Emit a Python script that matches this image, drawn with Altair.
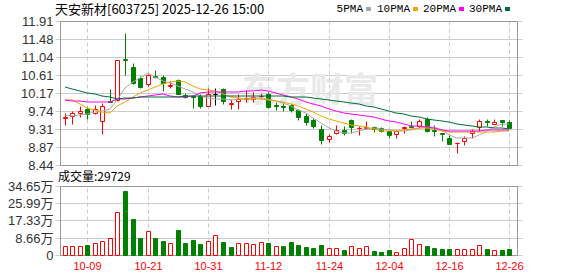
import altair as alt
import pandas as pd

# ---------------- data ----------------
dates = ["09-26", "09-29", "09-30", "10-09", "10-10", "10-13", "10-14", "10-15", "10-16", "10-17",
         "10-20", "10-21", "10-22", "10-23", "10-24", "10-27", "10-28", "10-29", "10-30", "10-31",
         "11-03", "11-04", "11-05", "11-06", "11-07", "11-10", "11-11", "11-12", "11-13", "11-14",
         "11-17", "11-18", "11-19", "11-20", "11-21", "11-24", "11-25", "11-26", "11-27", "11-28",
         "12-01", "12-02", "12-03", "12-04", "12-05", "12-08", "12-09", "12-10", "12-11", "12-12",
         "12-15", "12-16", "12-17", "12-18", "12-19", "12-22", "12-23", "12-24", "12-25", "12-26"]

opens = [9.58, 9.63, 9.70, 9.80, 9.69, 9.49, 9.99, 10.01, 11.00, 10.80,
         10.54, 10.38, 10.58, 10.56, 10.35, 10.48, 10.13, 10.10, 10.10, 9.86,
         10.16, 10.27, 9.92, 9.99, 10.03, 10.02, 10.10, 10.15, 9.89, 9.85,
         9.88, 9.76, 9.61, 9.52, 9.30, 9.07, 9.20, 9.29, 9.52, 9.32,
         9.32, 9.36, 9.32, 9.25, 9.18, 9.33, 9.37, 9.37, 9.55, 9.29,
         9.20, 9.10, 8.96, 9.01, 9.20, 9.36, 9.49, 9.43, 9.52, 9.47]

closes = [9.60, 9.69, 9.73, 9.67, 9.79, 9.87, 9.97, 10.96, 10.96, 10.42,
          10.32, 10.62, 10.56, 10.42, 10.37, 10.16, 10.08, 10.08, 9.85, 10.16,
          10.16, 9.99, 9.94, 10.04, 10.06, 10.07, 10.11, 9.84, 9.87, 9.83,
          9.76, 9.60, 9.48, 9.39, 9.04, 9.15, 9.28, 9.21, 9.36, 9.34,
          9.36, 9.30, 9.26, 9.16, 9.26, 9.35, 9.35, 9.50, 9.25, 9.27,
          9.18, 8.95, 8.98, 9.09, 9.27, 9.50, 9.47, 9.47, 9.48, 9.34]

highs = [9.69, 9.73, 9.85, 9.83, 9.89, 9.93, 10.27, 10.97, 11.62, 10.90,
         10.59, 10.64, 10.72, 10.62, 10.46, 10.51, 10.17, 10.11, 10.14, 10.29,
         10.30, 10.30, 10.03, 10.15, 10.24, 10.20, 10.18, 10.19, 9.97, 9.93,
         9.93, 9.80, 9.69, 9.57, 9.40, 9.19, 9.40, 9.39, 9.56, 9.37,
         9.50, 9.39, 9.35, 9.29, 9.28, 9.37, 9.49, 9.54, 9.59, 9.40,
         9.22, 9.16, 8.99, 9.15, 9.31, 9.55, 9.55, 9.55, 9.53, 9.53]

lows = [9.41, 9.44, 9.59, 9.56, 9.68, 9.19, 9.96, 9.99, 10.61, 10.38,
        10.30, 10.35, 10.54, 10.22, 10.30, 10.15, 10.05, 9.82, 9.82, 9.85,
        9.89, 9.90, 9.79, 9.78, 9.97, 9.97, 10.05, 9.81, 9.77, 9.73,
        9.71, 9.52, 9.41, 9.32, 8.95, 8.99, 9.19, 9.17, 9.22, 9.17,
        9.31, 9.24, 9.23, 9.08, 9.10, 9.21, 9.33, 9.33, 9.24, 9.15,
        9.03, 8.94, 8.74, 8.91, 9.10, 9.26, 9.38, 9.43, 9.38, 9.33]

# volume in 万 (10k shares)
volumes = [4.5, 4.5, 4.5, 5.0, 6.0, 7.0, 8.4, 21.4, 32.1, 18.1,
           8.7, 12.0, 8.7, 7.0, 6.0, 12.5, 6.2, 7.5, 5.5, 7.0,
           10.0, 6.5, 4.0, 6.0, 6.0, 5.5, 6.5, 6.0, 4.5, 4.5,
           6.5, 5.0, 4.0, 3.5, 5.0, 3.7, 3.3, 2.5, 4.3, 3.3,
           4.3, 2.0, 1.5, 2.5, 1.5, 3.5, 7.9, 5.5, 4.5, 3.5,
           3.0, 3.0, 3.0, 3.0, 3.0, 5.0, 3.0, 2.3, 2.5, 2.97]

# 1 = red (up) volume bar, 0 = green (down)
vol_up = [1, 1, 1, 0, 1, 1, 1, 1, 0, 0,
          0, 1, 0, 0, 1, 0, 0, 0, 0, 1,
          1, 0, 0, 1, 1, 1, 1, 0, 1, 0,
          0, 0, 0, 0, 0, 1, 1, 0, 1, 1,
          1, 0, 0, 0, 1, 1, 1, 1, 0, 0,
          0, 0, 1, 1, 1, 1, 0, 1, 0, 0]

ma5 = [9.64, 9.62, 9.64, 9.66, 9.71, 9.74, 9.80, 10.00, 10.29, 10.44,
       10.54, 10.65, 10.57, 10.47, 10.41, 10.34, 10.26, 10.19, 10.10, 10.05,
       10.04, 10.03, 10.01, 10.02, 10.03, 10.05, 10.06, 10.03, 9.98, 9.93,
       9.86, 9.77, 9.69, 9.58, 9.45, 9.33, 9.26, 9.22, 9.21, 9.26,
       9.30, 9.32, 9.31, 9.28, 9.26, 9.27, 9.29, 9.34, 9.36, 9.35,
       9.29, 9.17, 9.10, 9.08, 9.10, 9.17, 9.27, 9.36, 9.43, 9.44]

ma10 = [10.01, 10.01, 9.91, 9.82, 9.76, 9.72, 9.69, 9.85, 9.97, 10.08,
        10.17, 10.24, 10.33, 10.40, 10.45, 10.47, 10.45, 10.35, 10.27, 10.24,
        10.22, 10.14, 10.09, 10.05, 10.04, 10.03, 10.02, 10.01, 9.99, 9.96,
        9.92, 9.87, 9.78, 9.71, 9.62, 9.56, 9.50, 9.45, 9.41, 9.38,
        9.35, 9.30, 9.27, 9.25, 9.26, 9.28, 9.30, 9.32, 9.33, 9.30,
        9.27, 9.24, 9.23, 9.23, 9.23, 9.23, 9.23, 9.23, 9.25, 9.27]

ma20 = [10.01, 9.99, 9.98, 9.97, 9.97, 9.97, 9.97, 10.02, 10.04, 10.06,
        10.09, 10.11, 10.13, 10.14, 10.11, 10.09, 10.08, 10.10, 10.17, 10.20,
        10.21, 10.21, 10.21, 10.21, 10.22, 10.23, 10.24, 10.23, 10.18, 10.13,
        10.08, 10.02, 9.96, 9.90, 9.85, 9.79, 9.74, 9.70, 9.68, 9.65,
        9.62, 9.59, 9.55, 9.51, 9.47, 9.43, 9.39, 9.37, 9.35, 9.32,
        9.29, 9.27, 9.25, 9.25, 9.25, 9.26, 9.28, 9.29, 9.29, 9.28]

ma30 = [10.31, 10.27, 10.22, 10.17, 10.14, 10.10, 10.07, 10.04, 10.05, 10.06,
        10.07, 10.08, 10.09, 10.09, 10.09, 10.09, 10.10, 10.10, 10.10, 10.10,
        10.10, 10.10, 10.10, 10.10, 10.10, 10.10, 10.10, 10.10, 10.10, 10.10,
        10.09, 10.08, 10.07, 10.06, 10.04, 10.01, 9.99, 9.96, 9.94, 9.90,
        9.86, 9.83, 9.79, 9.74, 9.70, 9.67, 9.63, 9.60, 9.56, 9.53,
        9.50, 9.47, 9.44, 9.41, 9.38, 9.36, 9.35, 9.33, 9.32, 9.31]

tick_idx = [3, 11, 19, 27, 35, 43, 51, 59]
price_ticks = [8.44, 8.87, 9.31, 9.74, 10.17, 10.61, 11.04, 11.48, 11.91]
vol_ticks = [0, 8.66, 17.33, 25.99, 34.65]
title_text = "天安新材[603725] 2025-12-26 15:00"
vol_title = "成交量:29729"
watermark = "东方财富"
ma_names = ["5PMA", "10PMA", "20PMA", "30PMA"]
ma_fields = ["ma5", "ma10", "ma20", "ma30"]
ma_colors = ["#a8a8a8", "#f2a600", "#ff00ff", "#006f3a"]

RED = "#ff0000"
GREEN = "#008000"
GRID = "#cccccc"
FRAME = "#999999"

# ---------------- tables ----------------
df = pd.DataFrame({
    "i": list(range(len(dates))), "date": dates,
    "o": opens, "h": highs, "l": lows, "c": closes,
    "vol": volumes, "vup": vol_up,
    "ma5": ma5, "ma10": ma10, "ma20": ma20, "ma30": ma30,
})
ticks_df = pd.DataFrame({"ti": tick_idx})
one = pd.DataFrame({"k": [0]})

X_MIN, X_MAX = -0.624, 60.0
P_MIN, P_MAX = price_ticks[0], price_ticks[-1]
V_MIN, V_MAX = vol_ticks[0], vol_ticks[-1]

xs = alt.Scale(domain=[X_MIN, X_MAX], range=[55, 522], nice=False, zero=False, round=True)
ps = alt.Scale(domain=[P_MIN, P_MAX], range=[165, 21], nice=False, zero=False, round=True)
vs = alt.Scale(domain=[V_MIN, V_MAX], range=[255, 186], nice=False, zero=False, round=True)

label_expr_x = "[" + ",".join("'%s'" % d for d in dates) + "][datum.value]"
xa = alt.Axis(orient="bottom", values=tick_idx, labelExpr=label_expr_x, offset=-21,
              grid=False, ticks=False, tickSize=0, domain=False, title=None,
              labelFont="Liberation Sans", labelFontSize=11, labelColor=RED,
              labelPadding=5, labelOverlap=False, labelFlush=False)
pa = alt.Axis(orient="left", values=price_ticks, format=".2f", offset=-55,
              grid=True, gridColor=GRID, gridWidth=1, ticks=False, tickSize=0,
              domain=False, title=None, labelFont="Liberation Sans", labelFontSize=13,
              labelColor="#333333", labelPadding=2, labelOverlap=False, labelFlush=False)
va = alt.Axis(orient="left", values=vol_ticks,
              labelExpr="datum.value == 0 ? '0' : format(datum.value, '.2f') + '万'",
              offset=-55, grid=True, gridColor=GRID, gridWidth=1, ticks=False, tickSize=0,
              domain=False, title=None, labelFont="Liberation Sans, Noto Sans CJK SC",
              labelFontSize=13, labelColor="#333333", labelPadding=2,
              labelOverlap=False, labelFlush=False)

dir_domain = ["up", "down", "flat"]
fill_sc = alt.Scale(domain=dir_domain, range=["#ffffff", GREEN, "#000000"])
line_sc = alt.Scale(domain=dir_domain, range=[RED, GREEN, "#000000"])

base = alt.Chart(df).transform_calculate(
    dir="datum.c > datum.o ? 'up' : (datum.c < datum.o ? 'down' : 'flat')",
    bt="max(datum.o, datum.c)",
    bb="min(datum.o, datum.c)",
    vdir="datum.vup == 1 ? 'up' : 'down'",
)

def X(f):
    return alt.X(f, type="quantitative", scale=xs, axis=xa)

# ---------------- price panel ----------------
wm = alt.Chart(one).mark_text(text=watermark, font="Noto Sans CJK SC", fontSize=34,
                              fontWeight="bold", color="#e9e9e9").encode(
    x=alt.value(310), y=alt.value(92))

vgrid_p = alt.Chart(ticks_df).mark_rule(color=GRID, strokeDash=[4, 3], xOffset=0.5,
                                        yOffset=0.5, y2Offset=0.5).encode(
    x=X("ti"), y=alt.YDatum(P_MIN, scale=ps, axis=pa), y2=alt.Y2Datum(P_MAX))

frame_p = alt.Chart(one).mark_rect(fillOpacity=0, stroke=FRAME, strokeWidth=1,
                                   xOffset=0.5, x2Offset=0.5, yOffset=0.5, y2Offset=0.5).encode(
    x=alt.XDatum(X_MIN, scale=xs, axis=xa), x2=alt.X2Datum(X_MAX),
    y=alt.YDatum(P_MIN, scale=ps, axis=pa), y2=alt.Y2Datum(P_MAX))

wick = base.mark_rule(strokeWidth=1, xOffset=0.5, yOffset=0.5, y2Offset=0.5).encode(
    x=X("i"), y=alt.Y("l:Q", scale=ps, axis=pa), y2="h:Q",
    color=alt.Color("dir:N", scale=line_sc, legend=None))

body = base.mark_bar(size=4, strokeWidth=1, xOffset=0.5, yOffset=0.5, y2Offset=0.5).encode(
    x=X("i"), y=alt.Y("bb:Q", scale=ps, axis=pa), y2="bt:Q",
    fill=alt.Fill("dir:N", scale=fill_sc, legend=None),
    stroke=alt.Stroke("dir:N", scale=line_sc, legend=None))

ma_layers = [
    alt.Chart(df).mark_line(color=col, strokeWidth=1).encode(
        x=X("i"), y=alt.Y(f + ":Q", scale=ps, axis=pa))
    for f, col in zip(ma_fields, ma_colors)
]

price = alt.layer(wm, vgrid_p, frame_p, wick, body, *ma_layers)

# ---------------- volume panel ----------------
vgrid_v = alt.Chart(ticks_df).mark_rule(color=GRID, strokeDash=[4, 3], xOffset=0.5,
                                        yOffset=0.5, y2Offset=0.5).encode(
    x=X("ti"), y=alt.YDatum(V_MIN, scale=vs, axis=va), y2=alt.Y2Datum(V_MAX))

frame_v = alt.Chart(one).mark_rect(fillOpacity=0, stroke=FRAME, strokeWidth=1,
                                   xOffset=0.5, x2Offset=0.5, yOffset=0.5, y2Offset=0.5).encode(
    x=alt.XDatum(X_MIN, scale=xs, axis=xa), x2=alt.X2Datum(X_MAX),
    y=alt.YDatum(V_MIN, scale=vs, axis=va), y2=alt.Y2Datum(V_MAX))

vbars = base.mark_bar(size=4, strokeWidth=1, xOffset=0.5, yOffset=0.5, y2Offset=0.5).encode(
    x=X("i"), y=alt.Y("vol:Q", scale=vs, axis=va), y2=alt.Y2Datum(0),
    fill=alt.Fill("vdir:N", scale=fill_sc, legend=None),
    stroke=alt.Stroke("vdir:N", scale=line_sc, legend=None))

vol = alt.layer(vgrid_v, frame_v, vbars)

# ---------------- texts ----------------
title_l = alt.Chart(one).mark_text(text=title_text, align="left", baseline="middle",
                                   font="Noto Sans CJK SC", fontSize=13, color="#000000").encode(
    x=alt.value(55), y=alt.value(10))
vol_title_l = alt.Chart(one).mark_text(text=vol_title, align="left", baseline="middle",
                                       font="Noto Sans CJK SC", fontSize=12, color="#000000").encode(
    x=alt.value(58), y=alt.value(177))

legend_label_right = [363, 410, 456, 502]
legend_layers = []
for name, col, xr in zip(ma_names, ma_colors, legend_label_right):
    legend_layers.append(alt.Chart(one).mark_text(text=name, align="right", baseline="middle",
                                                  font="Liberation Mono", fontSize=11,
                                                  color="#000000").encode(
        x=alt.value(xr), y=alt.value(9)))
    legend_layers.append(alt.Chart(one).mark_rect(color=col).encode(
        x=alt.value(xr + 3), x2=alt.value(xr + 8), y=alt.value(7), y2=alt.value(11)))

chart = alt.layer(price, vol, title_l, vol_title_l, *legend_layers).resolve_scale(
    y="independent"
).properties(
    width=578, height=276, padding=0,
    autosize=alt.AutoSizeParams(type="none"),
    background="#ffffff",
).configure_view(stroke=None)

chart.save("out.html", embed_options={"renderer": "svg", "actions": False})
